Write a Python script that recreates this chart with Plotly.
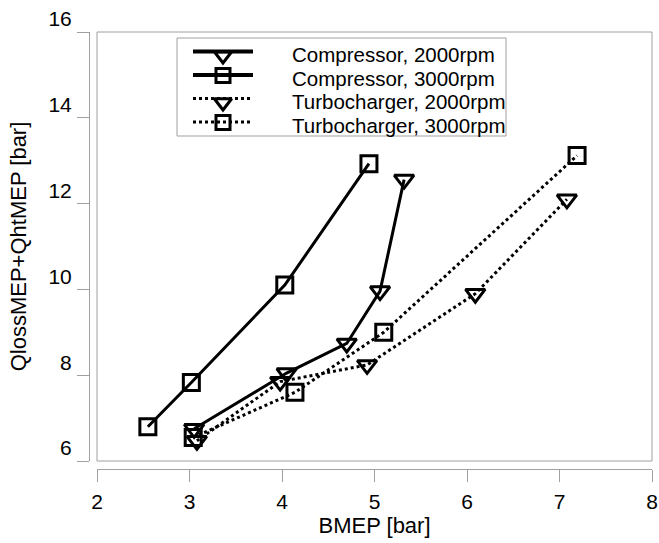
import plotly.graph_objects as go

# Data (BMEP [bar], QlossMEP+QhtMEP [bar])
comp2000_x = [3.05, 4.05, 4.70, 5.06, 5.32]
comp2000_y = [6.75, 8.05, 8.74, 9.96, 12.56]
comp3000_x = [2.55, 3.02, 4.03, 4.94]
comp3000_y = [6.80, 7.83, 10.10, 12.93]
turbo2000_x = [3.08, 3.98, 4.92, 6.09, 7.08]
turbo2000_y = [6.47, 7.85, 8.24, 9.90, 12.10]
turbo3000_x = [3.04, 4.14, 5.10, 7.19]
turbo3000_y = [6.55, 7.60, 9.00, 13.12]

names = ["Compressor, 2000rpm", "Compressor, 3000rpm",
         "Turbocharger, 2000rpm", "Turbocharger, 3000rpm"]
xs = [comp2000_x, comp3000_x, turbo2000_x, turbo3000_x]
ys = [comp2000_y, comp3000_y, turbo2000_y, turbo3000_y]
dashes = ["solid", "solid", "dot", "dot"]
symbols = ["triangle-down-open", "square-open", "triangle-down-open", "square-open"]
sizes = [17, 16, 17, 16]

x_ticks = [2, 3, 4, 5, 6, 7, 8]
y_ticks = [6, 8, 10, 12, 14, 16]

FONT = "Liberation Sans, Arial, sans-serif"
GRAY = "#a0a0a0"

W, H = 659, 543
ml, mr, mt, mb = 89, 7, 32, 74
pw, ph = W - ml - mr, H - mt - mb

# legend layout (pixel coordinates of the page)
LEG_BOX = (177, 38, 506, 136)
LEG_ROW0, LEG_DY = 51.5, 23.5
LEG_LINE_X0, LEG_LINE_X1, LEG_TEXT_X = 193, 253, 290

fig = go.Figure()
for n, x, y, d, s, sz in zip(names, xs, ys, dashes, symbols, sizes):
    fig.add_trace(go.Scatter(
        x=x, y=y, name=n, mode="lines+markers", showlegend=False,
        line=dict(color="black", width=3, dash=d),
        marker=dict(symbol=s, size=sz, color="black",
                    line=dict(color="black", width=3)),
    ))

# custom legend drawn on a pixel-coordinate overlay subplot
annotations = []
for i, (n, d, s) in enumerate(zip(names, dashes, symbols)):
    yc = LEG_ROW0 + LEG_DY * i
    fig.add_trace(go.Scatter(
        x=[LEG_LINE_X0, LEG_LINE_X1], y=[yc, yc], mode="lines", showlegend=False,
        line=dict(color="black", width=4 if d == "solid" else 3, dash=d),
        xaxis="x2", yaxis="y2", hoverinfo="skip",
    ))
    is_tri = s.startswith("triangle")
    fig.add_trace(go.Scatter(
        x=[(LEG_LINE_X0 + LEG_LINE_X1) / 2], y=[yc + (4 if is_tri else 0.5)],
        mode="markers", showlegend=False,
        marker=dict(symbol=s, size=15 if is_tri else 14, color="black",
                    line=dict(color="black", width=3)),
        xaxis="x2", yaxis="y2", hoverinfo="skip",
    ))
    annotations.append(dict(
        text=n, x=LEG_TEXT_X, y=yc + 3, xref="x2", yref="y2", xanchor="left", yanchor="middle",
        showarrow=False, font=dict(family=FONT, size=20.5, color="black"),
    ))

fig.update_layout(
    width=W, height=H,
    margin=dict(l=ml, r=mr, t=mt, b=mb, autoexpand=False),
    paper_bgcolor="white", plot_bgcolor="rgba(0,0,0,0)",
    font=dict(family=FONT, color="black", size=21),
    showlegend=False,
    xaxis=dict(
        range=[2, 8], domain=[(97 - ml) / pw, 1], anchor="free", position=0,
        tickvals=x_ticks, ticktext=[str(v) for v in x_ticks],
        showgrid=False, zeroline=False, showline=True, linecolor=GRAY, linewidth=1,
        ticks="outside", ticklen=12, tickcolor=GRAY, tickwidth=1, ticklabelstandoff=2,
        tickfont=dict(size=21, family=FONT, color="black"),
        title=dict(text="BMEP [bar]", font=dict(size=22, family=FONT, color="black"), standoff=3),
    ),
    yaxis=dict(
        range=[6, 16], domain=[(469 - 461) / ph, 1], anchor="free", position=0,
        tickvals=y_ticks, ticktext=[str(v) for v in y_ticks],
        showgrid=False, zeroline=False, showline=True, linecolor=GRAY, linewidth=1,
        ticks="outside", ticklen=12, tickcolor=GRAY, tickwidth=1,
        ticklabelshift=-13, ticklabelstandoff=1,
        tickfont=dict(size=21, family=FONT, color="black"),
        title=dict(text="QlossMEP+QhtMEP [bar]", font=dict(size=22, family=FONT, color="black"), standoff=14),
    ),
    xaxis2=dict(range=[ml, W - mr], domain=[0, 1], anchor="y2", visible=False, fixedrange=True),
    yaxis2=dict(range=[H - mb, mt], domain=[0, 1], anchor="x2", visible=False, fixedrange=True),
    shapes=[
        dict(type="rect", xref="x domain", yref="y domain", x0=0, x1=1, y0=0, y1=1,
             line=dict(color=GRAY, width=1), fillcolor="rgba(0,0,0,0)", layer="below"),
        dict(type="rect", xref="x2", yref="y2", x0=LEG_BOX[0], x1=LEG_BOX[2],
             y0=LEG_BOX[1], y1=LEG_BOX[3],
             line=dict(color=GRAY, width=1), fillcolor="white", layer="below"),
    ],
    annotations=annotations,
)

fig.write_html("out.html")
